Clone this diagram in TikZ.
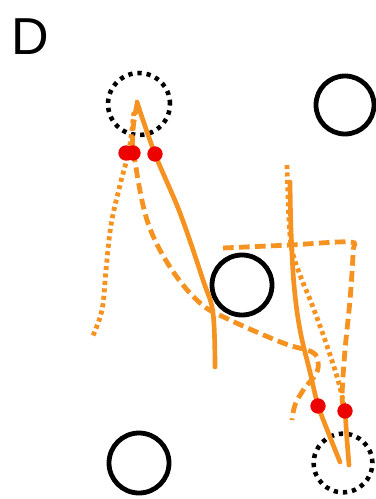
\documentclass[tikz,border=0pt]{standalone}
\usepackage{fontspec}
\setmainfont{Liberation Sans}
\begin{document}
\begin{tikzpicture}[x=0.75pt,y=-0.75pt]
\definecolor{traj}{RGB}{245,146,32}
\definecolor{hit}{RGB}{236,0,0}
\tikzset{
  ring/.style={circle,draw=black,line width=3.6pt,inner sep=0pt,minimum size=#1},
  dotring/.style={circle,draw=black,line width=3.4pt,inner sep=0pt,minimum size=#1,dash pattern=on 3.2pt off 3.7pt},
  hitdot/.style={circle,fill=hit,inner sep=0pt,minimum size=11.5pt},
  trsolid/.style={draw=traj,line width=3.5pt,line cap=round,line join=round},
  trdash/.style={draw=traj,line width=3.6pt,dash pattern=on 8pt off 4pt},
  trdot/.style={draw=traj,line width=3.6pt,dash pattern=on 3pt off 2.6pt},
  panel/.style={font=\fontsize{39}{41}\selectfont,inner sep=0pt,anchor=base west}
}
\useasboundingbox (0,0) rectangle (375,499);
\node[panel] (lbl) at (11,55) {D};
% circles
\node[dotring=46.5pt] (c1) at (139,104) {};
\node[ring=43.5pt] (c2) at (345,105) {};
\node[ring=45pt] (c3) at (242,285) {};
\node[ring=45pt] (c4) at (139,463) {};
\node[dotring=44pt] (c5) at (343,463) {};
% left group
\draw[trdot] plot[smooth,tension=0.6] coordinates {(134,112) (129,150) (120,185) (111,225) (106,270) (102,310) (92,338)};
\draw[trdash] plot[smooth,tension=0.6] coordinates {(137,104) (133,130) (134,155) (147,220) (170,267) (200,303) (230,320) (283,343) (312,352) (318,362) (316,374) (304,389) (295,405) (292,420)};
\draw[trsolid] plot[smooth,tension=0.6] coordinates {(137,102) (155,154) (180,213) (203,280) (213,313) (215,367)};
% right group
\draw[trdot] plot[smooth,tension=0.6] coordinates {(287,165) (289,220) (292,250) (300,275) (311,302) (325,340) (338,380) (345,410)};
\draw[trdash] plot[smooth,tension=0.5] coordinates {(223,248) (290,245) (350,242) (353,252) (350,300) (345,350) (342,397) (345,410)};
\draw[trsolid] plot[smooth,tension=0.6] coordinates {(290,182) (291,230) (294,285) (300,330) (310,372) (318,405) (330,437) (340,462)};
\draw[trsolid] plot[smooth] coordinates {(345,410) (347,440) (349,465)};
% detection points
\node[hitdot] (r1) at (126,153) {};
\node[hitdot] (r2) at (133,153) {};
\node[hitdot] (r3) at (155,154) {};
\node[hitdot] (r4) at (318,406) {};
\node[hitdot] (r5) at (345,411) {};
\end{tikzpicture}
\end{document}
